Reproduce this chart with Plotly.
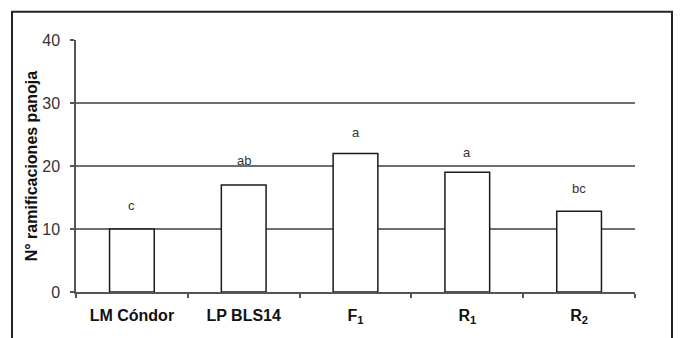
import plotly.graph_objects as go

# Panicle branching by genotype / generation
categories = ["LM Cóndor", "LP BLS14", "F<sub>1</sub>", "R<sub>1</sub>", "R<sub>2</sub>"]
values = [10.0, 17.0, 22.0, 19.0, 12.8]
letters = ["c", "ab", "a", "a", "bc"]
letter_offset = [3.7, 3.8, 3.3, 3.2, 3.7]
y_ticks = [0, 10, 20, 30, 40]

FONT = "Liberation Sans, Arial, sans-serif"

fig = go.Figure()
fig.add_trace(go.Bar(
    x=categories,
    y=values,
    width=0.40,
    marker=dict(color="white", line=dict(color="#1a1a1a", width=1.5)),
    showlegend=False,
    hoverinfo="skip",
))

# significance letters above each bar
for cat, v, lab, off in zip(categories, values, letters, letter_offset):
    fig.add_annotation(
        x=cat, y=v + off, text=lab, showarrow=False,
        xanchor="center", yanchor="middle",
        font=dict(family=FONT, size=13, color="#333333"),
    )

# rotated y-axis title
fig.add_annotation(
    xref="paper", yref="paper", x=-0.080, y=0.5,
    text="<b>N° ramificaciones panoja</b>", textangle=-90,
    showarrow=False, xanchor="center", yanchor="middle",
    font=dict(family=FONT, size=16, color="#111111"),
)

# outer chart frame
fig.add_shape(
    type="rect", xref="paper", yref="paper",
    x0=-0.1145, x1=1.0662, y0=-0.25, y1=1.112,
    line=dict(color="#222222", width=2), fillcolor="rgba(0,0,0,0)",
    layer="below",
)

fig.update_layout(
    width=680, height=338,
    margin=dict(l=76, r=45, t=40, b=44),
    paper_bgcolor="white", plot_bgcolor="white",
    font=dict(family=FONT),
)

fig.update_xaxes(
    type="category",
    showline=True, linecolor="#555555", linewidth=1.5,
    ticks="outside", tickson="boundaries", ticklen=4, tickcolor="#555555", tickwidth=1.5,
    ticklabelstandoff=8,
    tickfont=dict(family=FONT, size=16, color="#111111", weight="bold"),
    showgrid=False,
)
fig.update_yaxes(
    range=[0, 40],
    tickvals=y_ticks,
    showline=True, linecolor="#555555", linewidth=1.5,
    ticks="outside", ticklen=4, tickcolor="#555555", tickwidth=1.5,
    ticklabelstandoff=7,
    tickfont=dict(family=FONT, size=16, color="#333333"),
    showgrid=True, gridcolor="#6e6e6e", gridwidth=1.5,
    zeroline=False,
)

fig.write_html("out.html")
